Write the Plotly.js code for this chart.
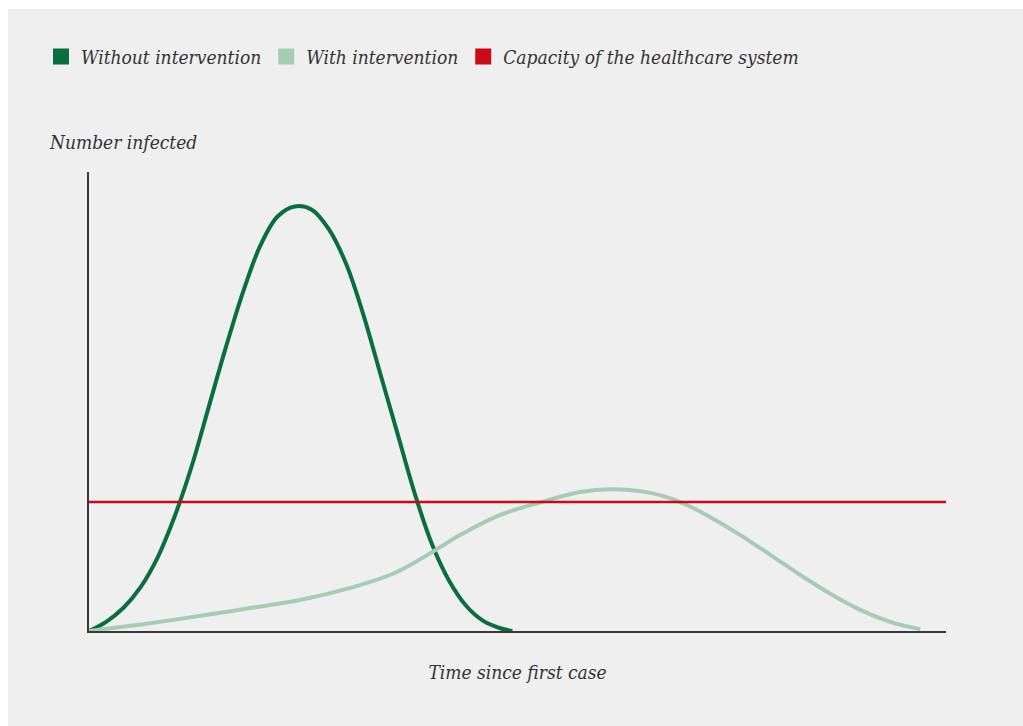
<!DOCTYPE html>
<html>
<head>
<meta charset="utf-8">
<script src="https://cdn.plot.ly/plotly-3.0.1.min.js"></script>
<style>
  html, body { margin: 0; padding: 0; background: #ffffff; }
  #chart { position: absolute; left: 8px; top: 9px; width: 1015px; height: 717px; }
</style>
</head>
<body>
<div id="chart"></div>
<script>
// Values (x: time units 0–100, y: number infected 0–100)
const withoutX = [0, 2, 4, 6, 8, 10, 12, 14, 16, 18, 20, 22, 24, 26, 28, 30, 32, 34, 36, 38, 40, 42, 44, 46, 48, 49.4];
const withoutY = [0, 2, 5, 9.5, 16, 25, 36, 49, 62, 74, 84, 90.3, 92.5, 91.8, 87.5, 80, 69, 56, 43, 30, 19, 11, 5.5, 2.2, 0.6, 0];

const withX = [0, 7.1, 13.0, 18.8, 24.6, 30.5, 35.1, 37.5, 40.4, 43.3, 48.0, 52.6, 57.3, 61.0, 65.5, 69.0, 72.5, 76.0, 79.5, 83.0, 86.5, 90.0, 93.5, 97.0];
const withY = [0, 1.7, 3.3, 5.0, 6.75, 9.4, 12.2, 14.4, 17.6, 20.9, 25.3, 28.0, 30.3, 30.9, 30.1, 28.1, 24.8, 20.9, 16.6, 12.2, 8.1, 4.6, 2.0, 0.4];

const capacityX = [0, 100];
const capacityY = [28.1, 28.1];

const seriesNames = ["Without intervention", "With intervention", "Capacity of the healthcare system"];
const xTitle = "Time since first case";
const yTitle = "Number infected";

const colDark = "#0b6e3d";
const colLight = "#a4cdb4";
const colRed = "#cc0a17";
const fontFam = "'DejaVu Serif Condensed', 'DejaVu Serif', serif";
const fSize = 19;

const traces = [
  { x: withoutX, y: withoutY, mode: "lines", line: { color: colDark, width: 4, shape: "spline", smoothing: 1 }, showlegend: false, cliponaxis: false, hoverinfo: "skip" },
  { x: withX, y: withY, mode: "lines", line: { color: colLight, width: 4, shape: "spline", smoothing: 1 }, showlegend: false, cliponaxis: false, hoverinfo: "skip" },
  { x: capacityX, y: capacityY, mode: "lines", line: { color: colRed, width: 2.5 }, showlegend: false, cliponaxis: false, hoverinfo: "skip" },
  // legend entries
  { x: [null], y: [null], mode: "markers", name: seriesNames[0], marker: { symbol: "square", size: 17, color: colDark } },
  { x: [null], y: [null], mode: "markers", name: seriesNames[1], marker: { symbol: "square", size: 17, color: colLight } },
  { x: [null], y: [null], mode: "markers", name: seriesNames[2], marker: { symbol: "square", size: 17, color: colRed } }
];

const layout = {
  width: 1015, height: 717,
  paper_bgcolor: "#efefef",
  plot_bgcolor: "#efefef",
  margin: { l: 81, r: 77, t: 163, b: 95 },
  font: { family: fontFam, color: "#333333", size: fSize, style: "italic" },
  showlegend: true,
  legend: {
    orientation: "h", x: 0.0325, xref: "container", xanchor: "left",
    y: 0.96, yref: "container", yanchor: "top",
    font: { family: fontFam, size: fSize, color: "#333333", style: "italic" },
    bgcolor: "rgba(0,0,0,0)", itemclick: false, itemdoubleclick: false,
    traceorder: "normal", tracegroupgap: 0
  },
  xaxis: {
    range: [0, 100], showgrid: false, zeroline: false, showticklabels: false, ticks: "",
    showline: true, linecolor: "#3a3a3a", linewidth: 2, fixedrange: true,
    title: { text: xTitle, standoff: 34, font: { family: fontFam, size: fSize, color: "#333333", style: "italic" } }
  },
  yaxis: {
    range: [0, 100], showgrid: false, zeroline: false, showticklabels: false, ticks: "",
    showline: true, linecolor: "#3a3a3a", linewidth: 2, fixedrange: true
  },
  annotations: [
    { text: yTitle, xref: "paper", yref: "paper", x: -0.0485, y: 1.037, xanchor: "left", yanchor: "bottom", showarrow: false,
      font: { family: fontFam, size: fSize, color: "#333333", style: "italic" } }
  ]
};

Plotly.newPlot("chart", traces, layout, { displayModeBar: false, staticPlot: true });
</script>
</body>
</html>
